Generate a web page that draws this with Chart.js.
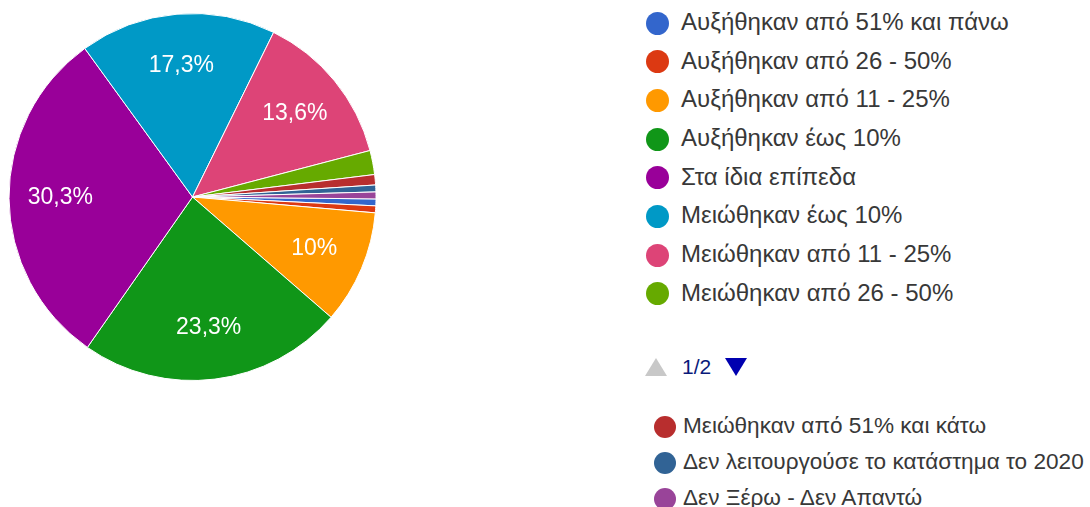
<!DOCTYPE html>
<html>
<head>
<meta charset="utf-8">
<script src="https://cdn.jsdelivr.net/npm/chart.js@4/dist/chart.umd.min.js"></script>
<style>
  body { margin: 0; background: #fff; font-family: "Liberation Sans", Arial, sans-serif; }
  #wrap { position: relative; width: 1090px; height: 507px; overflow: hidden; }
  #pieBox { position: absolute; left: 0; top: 0; width: 400px; height: 507px; }
  .item { position: absolute; white-space: nowrap; color: #383838; line-height: 1; }
  .dot { position: absolute; border-radius: 50%; }
  .tri { position: absolute; width: 0; height: 0; }
</style>
</head>
<body>
<div id="wrap">
  <div id="pieBox"><canvas id="pie"></canvas></div>
  <div id="legend"></div>
</div>
<script>
// answers, in the order google forms lists them
const labels = [
  'Αυξήθηκαν από 51% και πάνω',
  'Αυξήθηκαν από 26 - 50%',
  'Αυξήθηκαν από 11 - 25%',
  'Αυξήθηκαν έως 10%',
  'Στα ίδια επίπεδα',
  'Μειώθηκαν έως 10%',
  'Μειώθηκαν από 11 - 25%',
  'Μειώθηκαν από 26 - 50%',
  'Μειώθηκαν από 51% και κάτω',
  'Δεν λειτουργούσε το κατάστημα το 2020',
  'Δεν Ξέρω - Δεν Απαντώ'
];
const counts = [2, 2, 33, 77, 100, 57, 45, 7, 3, 2, 2];
const colors = ['#3366cc', '#dc3912', '#ff9900', '#109618', '#990099', '#0099c6',
                '#dd4477', '#66aa00', '#b82e2e', '#316395', '#994499'];
const pageOne = 8; // legend shows 8 entries, the rest after "1/2"

var total = counts.reduce(function (a, b) { return a + b; }, 0);

function pctText(v) {
  let p = Math.round(v / total * 1000) / 10;
  return String(p).replace('.', ',') + '%';
}

// percentage labels inside the bigger slices
const sliceLabels = {
  id: 'sliceLabels',
  afterDatasetsDraw(chart) {
    const ctx = chart.ctx;
    const arcs = chart.getDatasetMeta(0).data;
    ctx.save();
    ctx.fillStyle = '#ffffff';
    ctx.font = '23px "Liberation Sans", Arial, sans-serif';
    ctx.textAlign = 'center';
    ctx.textBaseline = 'middle';
    arcs.forEach(function (arc, i) {
      if (counts[i] / total < 0.05) return;
      let mid = (arc.startAngle + arc.endAngle) / 2;
      let r = arc.outerRadius * 0.72;
      ctx.fillText(pctText(counts[i]), arc.x + Math.cos(mid) * r, arc.y + Math.sin(mid) * r);
    });
    ctx.restore();
  }
};

new Chart(document.getElementById('pie'), {
  type: 'pie',
  data: {
    labels: labels,
    datasets: [{
      data: counts,
      backgroundColor: colors,
      borderColor: '#ffffff',
      borderWidth: 1
    }]
  },
  options: {
    responsive: true,
    maintainAspectRatio: false,
    animation: false,
    rotation: 90.6,
    layout: { padding: { left: 8.5, right: 23.5, top: 13, bottom: 126 } },
    plugins: {
      legend: { display: false },
      tooltip: { enabled: false }
    }
  },
  plugins: [sliceLabels]
});

// html legend
var legend = document.getElementById('legend');
function addItem(i, dotX, textX, y, size, dot) {
  let d = document.createElement('div');
  d.className = 'dot';
  d.style.background = colors[i];
  d.style.width = dot + 'px';
  d.style.height = dot + 'px';
  d.style.left = (dotX - dot / 2) + 'px';
  d.style.top = (y - dot / 2) + 'px';
  legend.appendChild(d);
  let t = document.createElement('div');
  t.className = 'item';
  t.textContent = labels[i];
  t.style.fontSize = size + 'px';
  t.style.left = textX + 'px';
  t.style.top = (y - size * 0.55) + 'px';
  legend.appendChild(t);
}
for (let i = 0; i < pageOne; i++) {
  addItem(i, 657.5, 681, 23 + i * 38.7, 24, 23);
}
for (let i = pageOne; i < labels.length; i++) {
  addItem(i, 665, 683, 427 + (i - pageOne) * 36, 22.6, 22);
}

// pager: grey up arrow, "1/2", blue down arrow
var up = document.createElement('div');
up.className = 'tri';
up.style.cssText += 'left:645px;top:358px;border-left:11.5px solid transparent;border-right:11.5px solid transparent;border-bottom:18px solid #c8c8c8;';
legend.appendChild(up);
var pg = document.createElement('div');
pg.className = 'item';
pg.textContent = '1/2';
pg.style.cssText += 'left:682px;top:356px;font-size:21px;color:#0a1a7a;';
legend.appendChild(pg);
var down = document.createElement('div');
down.className = 'tri';
down.style.cssText += 'left:725px;top:358px;border-left:11.5px solid transparent;border-right:11.5px solid transparent;border-top:18px solid #0000b0;';
legend.appendChild(down);
</script>
</body>
</html>
